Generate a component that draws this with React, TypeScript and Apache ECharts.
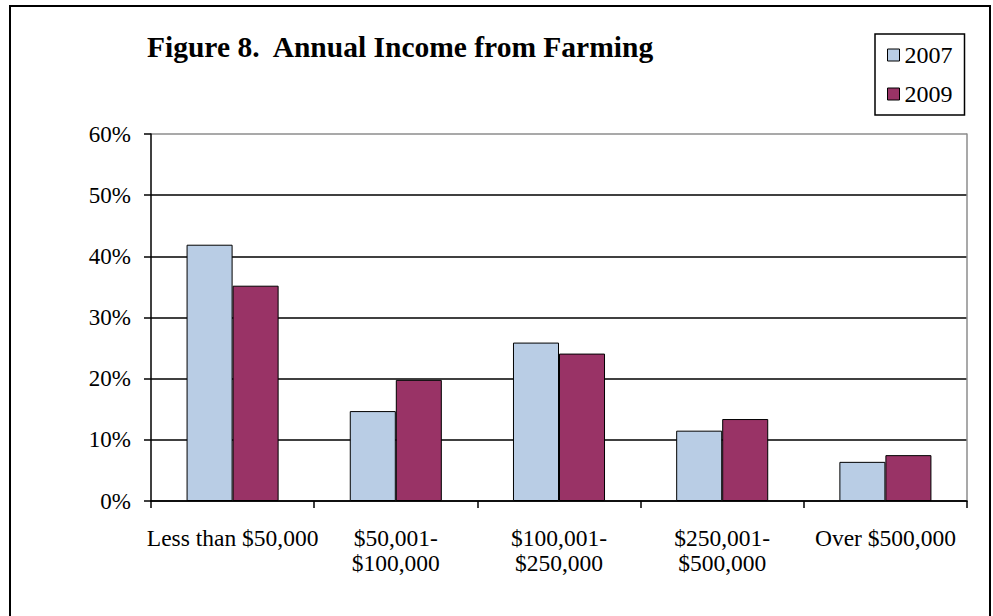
import React, { useEffect, useRef } from "react";
import * as echarts from "echarts";

const categories = [
  "Less than $50,000",
  "$50,001-\n$100,000",
  "$100,001-\n$250,000",
  "$250,001-\n$500,000",
  "Over $500,000",
];
const series2007 = [41.9, 14.7, 25.9, 11.5, 6.4];
const series2009 = [35.2, 19.8, 24.1, 13.4, 7.5];
const yTicks = [0, 10, 20, 30, 40, 50, 60];
const titleText = "Figure 8.  Annual Income from Farming";

const FONT = "'Liberation Serif', 'Times New Roman', serif";

export default function App() {
  const ref = useRef<HTMLDivElement>(null);
  useEffect(() => {
    if (!ref.current) return;
    const chart = echarts.init(ref.current, null, { renderer: "svg" });
    chart.setOption({
      animation: false,
      backgroundColor: "#ffffff",
      title: {
        text: titleText,
        left: 147,
        top: 32,
        padding: 0,
        textStyle: { fontFamily: FONT, fontWeight: "bold", fontSize: 29.5, color: "#000" },
      },
      legend: {
        orient: "vertical",
        left: 875,
        top: 34,
        padding: [9, 12, 9, 12],
        itemGap: 15,
        itemWidth: 12,
        itemHeight: 12,
        icon: "rect",
        itemStyle: { borderColor: "#000", borderWidth: 1 },
        borderColor: "#000",
        borderWidth: 1.5,
        textStyle: { fontFamily: FONT, fontSize: 24, color: "#000" },
        data: ["2007", "2009"],
      },
      grid: { left: 151, right: 26, top: 134, bottom: 115, containLabel: false },
      xAxis: {
        type: "category",
        data: categories,
        axisLine: { lineStyle: { color: "#000", width: 1.5 } },
        axisTick: { show: true, length: 7, lineStyle: { color: "#000", width: 1.5 } },
        axisLabel: {
          interval: 0,
          margin: 24,
          fontFamily: FONT,
          fontSize: 23.5,
          color: "#000",
          lineHeight: 25,
        },
      },
      yAxis: [
        {
          type: "value",
          min: 0,
          max: 60,
          interval: 10,
          axisLine: { show: true, lineStyle: { color: "#000", width: 1.5 } },
          axisTick: { show: true, length: 7, lineStyle: { color: "#000", width: 1.5 } },
          axisLabel: {
            margin: 20,
            fontFamily: FONT,
            fontSize: 23,
            color: "#000",
            formatter: (v: number) => (yTicks.includes(v) ? v + "%" : ""),
          },
          splitLine: {
            show: true,
            lineStyle: {
              color: ["#000", "#000", "#000", "#000", "#000", "#000", "#8c8c8c"],
              width: 1.5,
            },
          },
        },
        {
          type: "value",
          position: "right",
          min: 0,
          max: 60,
          interval: 10,
          axisLine: { show: true, lineStyle: { color: "#8c8c8c", width: 1.5 } },
          axisTick: { show: false },
          axisLabel: { show: false },
          splitLine: { show: false },
        },
      ],
      series: [
        {
          name: "2007",
          type: "bar",
          data: series2007,
          barCategoryGap: "43.6%",
          barGap: "0%",
          itemStyle: { color: "#B9CDE5", borderColor: "#000", borderWidth: 1 },
        },
        {
          name: "2009",
          type: "bar",
          data: series2009,
          barCategoryGap: "43.6%",
          barGap: "0%",
          itemStyle: { color: "#993366", borderColor: "#000", borderWidth: 1 },
        },
      ],
      graphic: [
        {
          type: "rect",
          shape: { x: 10, y: 6, width: 980, height: 630 },
          style: { fill: "none", stroke: "#000", lineWidth: 2 },
          silent: true,
        },
      ],
    });
    return () => chart.dispose();
  }, []);
  return (
    <div
      ref={ref}
      style={{ position: "fixed", left: 0, top: 0, width: 993, height: 616 }}
    />
  );
}
